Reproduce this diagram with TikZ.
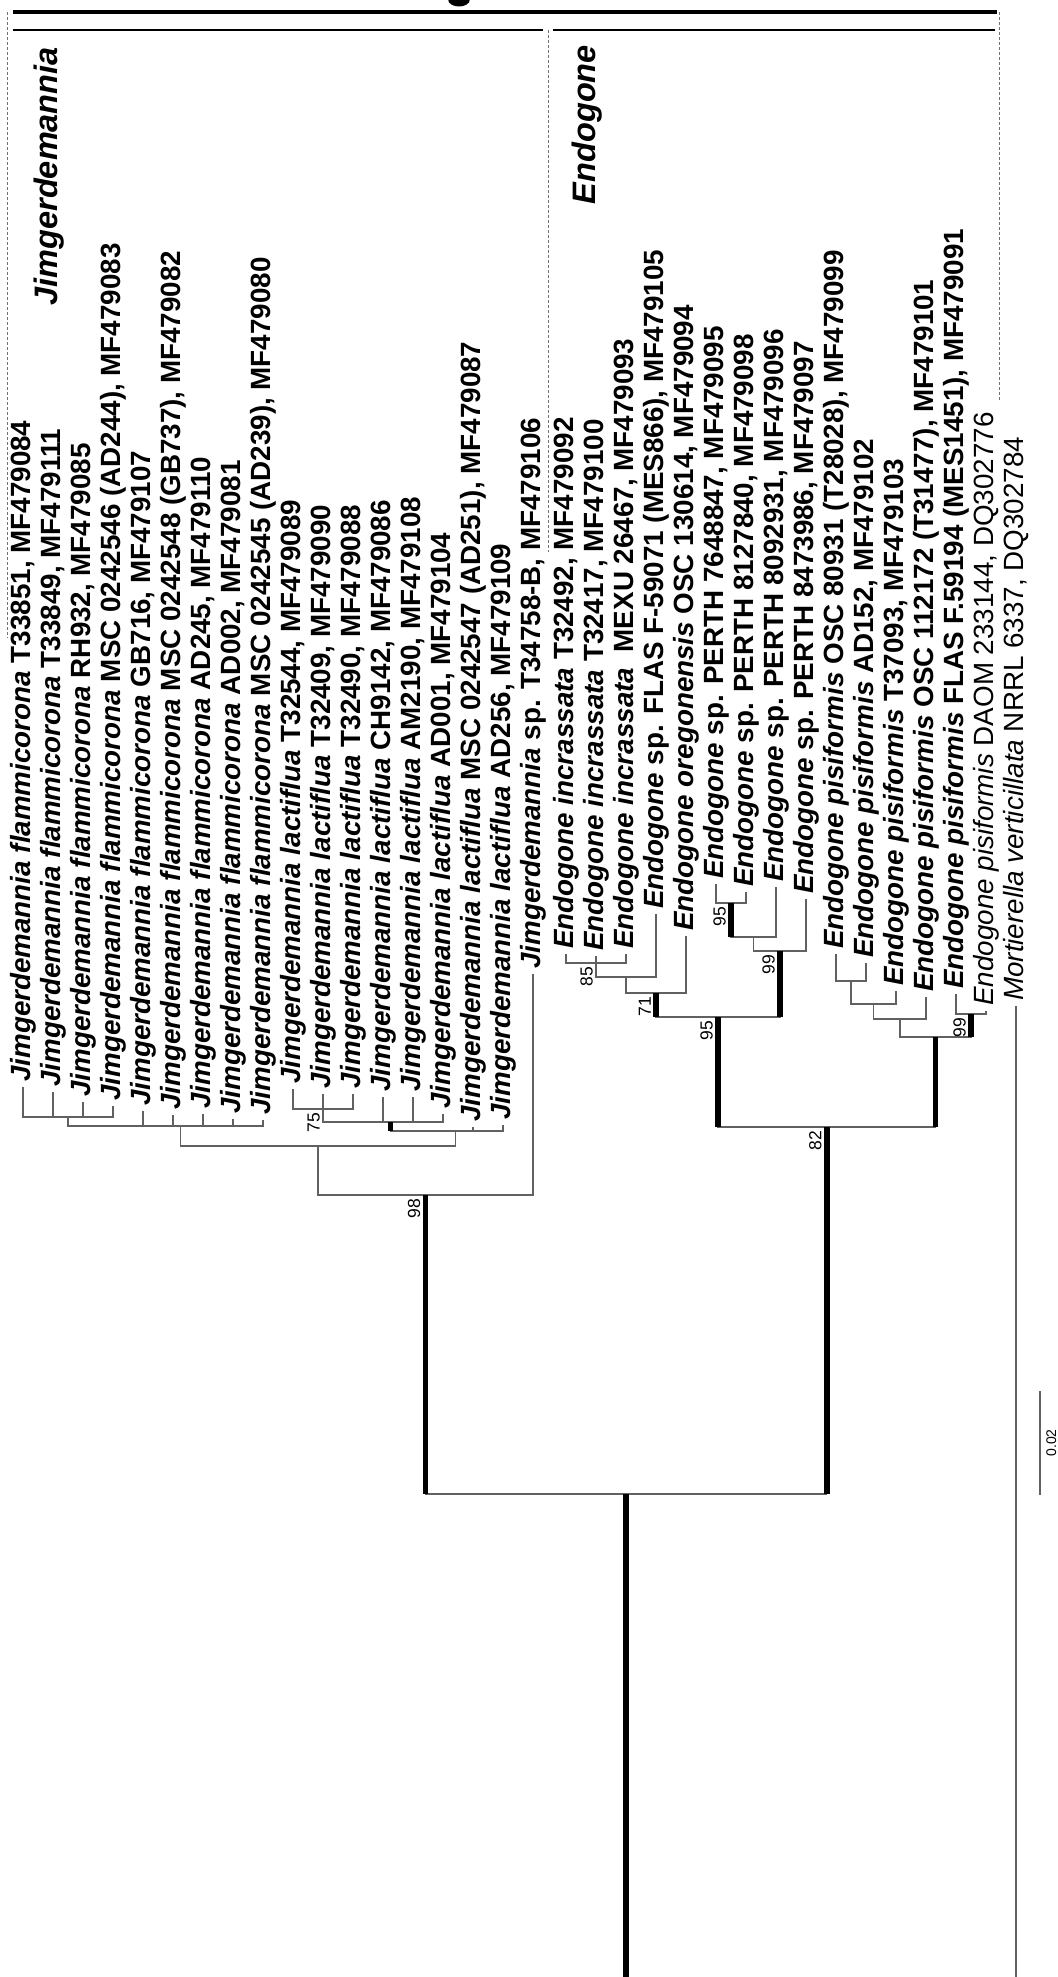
\documentclass[tikz,border=0pt]{standalone}
\usepackage{fontspec}
\setmainfont{Liberation Sans}
\newcommand\jflam{\textit{Jimgerdemannia flammicorona}}
\newcommand\jlac{\textit{Jimgerdemannia lactiflua}}
\newcommand\eg[1]{\textit{Endogone #1}}
\begin{document}
\begin{tikzpicture}[x=1pt,y=-1pt,
  br/.style={line width=1.3pt, draw=black!62, line cap=rect},
  thk/.style={line width=5.5pt, draw=black},
  tx/.style={rotate=90, anchor=base west, inner sep=0pt, font=\fontsize{27.8}{30}\selectfont\bfseries},
  tn/.style={rotate=90, anchor=base west, inner sep=0pt, font=\fontsize{27.8}{30}\selectfont\mdseries},
  suplab/.style={rotate=90, anchor=south east, inner sep=0pt, font=\fontsize{17.5}{19}\selectfont},
  grp/.style={rotate=90, anchor=base east, inner sep=0pt, font=\fontsize{32.5}{34}\selectfont\bfseries\itshape},
  dsh/.style={draw=black!55, line width=0.9pt, dash pattern=on 3pt off 2pt}]
\fill[white] (0,0) rectangle (1057,1977);
\useasboundingbox (0,0) rectangle (1057,1977);

% header
\fill (448,-1) .. controls (448,9) and (470,9) .. (470,-1) -- cycle;
\draw[line width=4.5pt] (12.5,12) -- (997,12);
\draw[line width=2pt] (12.5,29.6) -- (543,29.6);
\draw[line width=2pt] (553,29.6) -- (995,29.6);
\draw[dsh] (7.5,12) -- (7.5,638);
\draw[dsh] (548,30) -- (548,552);
\draw[dsh] (999,12) -- (999,400);
\node[grp] (gJ) at (57,47) {Jimgerdemannia};
\node[grp] (gE) at (595,45) {Endogone};

% tip coordinates
\coordinate (p1) at (23,1088);  \coordinate (p2) at (53,1093);
\coordinate (p3) at (83,1103);  \coordinate (p4) at (113,1107);
\coordinate (p5) at (143,1112); \coordinate (p6) at (173,1116);
\coordinate (p7) at (203,1115); \coordinate (p8) at (233,1120);
\coordinate (p9) at (263,1121); \coordinate (p10) at (293,1090);
\coordinate (p11) at (323,1095); \coordinate (p12) at (353,1095);
\coordinate (p13) at (383,1098); \coordinate (p14) at (413,1098);
\coordinate (p15) at (443,1115); \coordinate (p16) at (473,1128);
\coordinate (p17) at (503,1126); \coordinate (p18) at (533,975);
\coordinate (p19) at (566,955); \coordinate (p20) at (596,957);
\coordinate (p21) at (626,955); \coordinate (p22) at (656,915);
\coordinate (p23) at (686,937); \coordinate (p24) at (716,885);
\coordinate (p25) at (746,893); \coordinate (p26) at (776,888);
\coordinate (p27) at (806,900); \coordinate (p28) at (836,955);
\coordinate (p29) at (866,964); \coordinate (p30) at (896,992);
\coordinate (p31) at (926,998); \coordinate (p32) at (956,995);
\coordinate (p33) at (986,1012); \coordinate (p34) at (1016,1007);

% internal nodes
\coordinate (nA) at (68,1117);
\coordinate (nF) at (180.5,1126);
\coordinate (n75) at (323,1109);
\coordinate (nB) at (390.5,1122);
\coordinate (nC) at (455.5,1131);
\coordinate (nS) at (318,1146);
\coordinate (nJ) at (425.5,1195);
\coordinate (n85) at (596,963);
\coordinate (nD) at (626,977);
\coordinate (n71) at (656,993);
\coordinate (n95b) at (731,903);
\coordinate (nE) at (753.5,937);
\coordinate (n99a) at (780,951);
\coordinate (n95) at (718,1017);
\coordinate (nP1) at (851,981);
\coordinate (nP2) at (873.5,1004);
\coordinate (nP3) at (900,1019);
\coordinate (n99b) at (971,1014);
\coordinate (nP4) at (935.5,1037);
\coordinate (n82) at (826.75,1127);
\coordinate (nR) at (626,1494);
\coordinate (rootbase) at (626,1977);
\coordinate (mortbase) at (1016,1977);

% thin branches
\foreach \c/\p in {p1/nA,p2/nA,p3/nA,p4/nA,nA/nF,p5/nF,p6/nF,p7/nF,p8/nF,p9/nF,
  p10/n75,p11/n75,p12/n75,n75/nB,p13/nB,p14/nB,p15/nB,nB/nC,p16/nC,p17/nC,
  nF/nS,nC/nS,nS/nJ,p18/nJ,nJ/nR,
  p19/n85,p20/n85,p21/n85,n85/nD,p22/nD,nD/n71,p23/n71,
  p24/n95b,p25/n95b,n95b/nE,p26/nE,nE/n99a,p27/n99a,n71/n95,n99a/n95,
  p28/nP1,p29/nP1,nP1/nP2,p30/nP2,nP2/nP3,p31/nP3,p32/n99b,p33/n99b,
  nP3/nP4,n99b/nP4,n95/n82,nP4/n82,n82/nR}
  \draw[br] (\c) |- (\p);
\draw[br] (p34) -- (mortbase);

% thick (supported) branches
\foreach \c/\p in {nB/nC,nJ/nR,n71/n95,n99a/n95,n95b/nE,n95/n82,n99b/nP4,nP4/n82,n82/nR}
  \draw[thk] (\c) -- (\c |- \p);
\draw[thk] (nR) -- (rootbase);

% support values
\node[suplab] (s98) at ([shift={(-5,4)}]nJ) {98};
\node[suplab] (s75) at ([shift={(-3,4)}]n75) {75};
\node[suplab] (s85) at ([shift={(-3,4)}]n85) {85};
\node[suplab] (s71) at ([shift={(-5,4)}]n71) {71};
\node[suplab] (s95b) at ([shift={(-5,4)}]n95b) {95};
\node[suplab] (s99a) at ([shift={(-5,4)}]n99a) {99};
\node[suplab] (s95) at ([shift={(-5,4)}]n95) {95};
\node[suplab] (s99b) at ([shift={(-5,4)}]n99b) {99};
\node[suplab] (s82) at ([shift={(-5,4)}]n82) {82};

% scale bar
\coordinate (sb1) at (1040,1392);
\coordinate (sb2) at (1040,1494);
\draw[br] (sb1) -- (sb2);
\node[rotate=90, anchor=base, inner sep=0pt, font=\fontsize{14}{16}\selectfont] (sbl) at (1056,1443) {0.02};

% taxon labels
\node[tx] (t1) at ([shift={(7,-6)}]p1) {\jflam\ T33851, MF479084};
\node[tx] (t2) at ([shift={(7,-6)}]p2) {\jflam\ T33849, MF479111};
\node[tx] (t3) at ([shift={(7,-6)}]p3) {\jflam\ RH932, MF479085};
\node[tx] (t4) at ([shift={(7,-6)}]p4) {\jflam\ MSC 0242546 (AD244), MF479083};
\node[tx] (t5) at ([shift={(7,-6)}]p5) {\jflam\ GB716, MF479107};
\node[tx] (t6) at ([shift={(7,-6)}]p6) {\jflam\ MSC 0242548 (GB737), MF479082};
\node[tx] (t7) at ([shift={(7,-6)}]p7) {\jflam\ AD245, MF479110};
\node[tx] (t8) at ([shift={(7,-6)}]p8) {\jflam\ AD002, MF479081};
\node[tx] (t9) at ([shift={(7,-6)}]p9) {\jflam\ MSC 0242545 (AD239), MF479080};
\node[tx] (t10) at ([shift={(7,-6)}]p10) {\jlac\ T32544, MF479089};
\node[tx] (t11) at ([shift={(7,-6)}]p11) {\jlac\ T32409, MF479090};
\node[tx] (t12) at ([shift={(7,-6)}]p12) {\jlac\ T32490, MF479088};
\node[tx] (t13) at ([shift={(7,-6)}]p13) {\jlac\ CH9142, MF479086};
\node[tx] (t14) at ([shift={(7,-6)}]p14) {\jlac\ AM2190, MF479108};
\node[tx] (t15) at ([shift={(7,-6)}]p15) {\jlac\ AD001, MF479104};
\node[tx] (t16) at ([shift={(7,-6)}]p16) {\jlac\ MSC 0242547 (AD251), MF479087};
\node[tx] (t17) at ([shift={(7,-6)}]p17) {\jlac\ AD256, MF479109};
\node[tx] (t18) at ([shift={(7,-6)}]p18) {\textit{Jimgerdemannia} sp. T34758-B, MF479106};
\node[tx] (t19) at ([shift={(7,-6)}]p19) {\eg{incrassata}\ T32492, MF479092};
\node[tx] (t20) at ([shift={(7,-6)}]p20) {\eg{incrassata}\ T32417, MF479100};
\node[tx] (t21) at ([shift={(7,-6)}]p21) {\eg{incrassata}\ \ MEXU 26467, MF479093};
\node[tx] (t22) at ([shift={(7,-6)}]p22) {\textit{Endogone} sp. FLAS F-59071 (MES866), MF479105};
\node[tx] (t23) at ([shift={(7,-6)}]p23) {\eg{oregonensis}\ OSC 130614, MF479094};
\node[tx] (t24) at ([shift={(7,-6)}]p24) {\textit{Endogone} sp. PERTH 7648847, MF479095};
\node[tx] (t25) at ([shift={(7,-6)}]p25) {\textit{Endogone} sp. PERTH 8127840, MF479098};
\node[tx] (t26) at ([shift={(7,-6)}]p26) {\textit{Endogone} sp. PERTH 8092931, MF479096};
\node[tx] (t27) at ([shift={(7,-6)}]p27) {\textit{Endogone} sp. PERTH 8473986, MF479097};
\node[tx] (t28) at ([shift={(7,-6)}]p28) {\eg{pisiformis}\ OSC 80931 (T28028), MF479099};
\node[tx] (t29) at ([shift={(7,-6)}]p29) {\eg{pisiformis}\ AD152, MF479102};
\node[tx] (t30) at ([shift={(7,-6)}]p30) {\eg{pisiformis}\ T37093, MF479103};
\node[tx] (t31) at ([shift={(7,-6)}]p31) {\eg{pisiformis}\ OSC 112172 (T31477), MF479101};
\node[tx] (t32) at ([shift={(7,-6)}]p32) {\eg{pisiformis}\ FLAS F.59194 (MES1451), MF479091};
\node[tn] (t33) at ([shift={(7,-6)}]p33) {\eg{pisiformis}\ DAOM 233144, DQ302776};
\node[tn] (t34) at ([shift={(7,-6)}]p34) {\textit{Mortierella verticillata} NRRL 6337, DQ302784};
\end{tikzpicture}
\end{document}
